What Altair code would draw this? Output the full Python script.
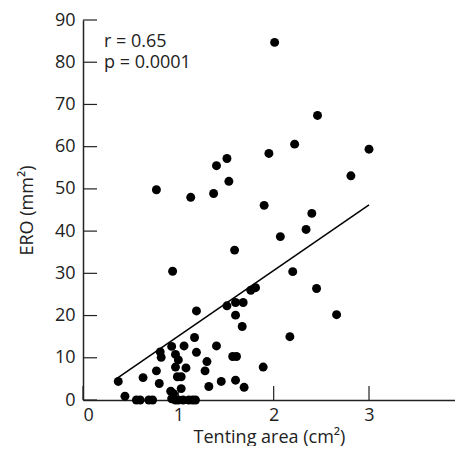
import altair as alt
import pandas as pd

# Scatter data: tenting area (cm^2) vs ERO (mm^2)
tenting = [2.01, 2.46, 2.22, 1.95, 3.00, 2.81, 1.51, 1.40, 1.53, 1.37,
           1.13, 0.77, 1.90, 2.40, 2.34, 2.07, 1.59, 0.94, 2.20, 1.81,
           1.76, 2.45, 1.51, 1.60, 1.68, 1.60, 1.19, 2.66, 1.67, 2.17,
           1.17, 1.06, 1.40, 1.19, 1.57, 1.61, 1.30, 1.28, 1.89, 1.45,
           1.60, 1.32, 1.69, 0.37, 0.44, 0.56, 0.60, 0.69, 0.73, 0.63,
           0.77, 0.80, 0.81, 0.82, 0.93, 0.97, 1.00, 0.97, 1.08, 0.99,
           1.03, 1.03, 0.92, 0.95, 0.93, 0.97, 1.00, 1.05, 1.11, 1.15,
           1.18]
ero = [84.7, 67.4, 60.6, 58.4, 59.4, 53.1, 57.2, 55.5, 51.8, 48.9,
       48.0, 49.8, 46.1, 44.2, 40.4, 38.7, 35.5, 30.5, 30.4, 26.6,
       26.0, 26.4, 22.3, 23.1, 23.1, 20.1, 21.1, 20.2, 17.4, 15.0,
       14.8, 12.8, 12.8, 11.3, 10.3, 10.3, 9.1, 6.9, 7.8, 4.4,
       4.7, 3.2, 3.0, 4.4, 0.9, 0.0, 0.0, 0.0, 0.0, 5.3,
       6.9, 3.9, 11.4, 10.1, 12.7, 10.8, 9.5, 7.8, 7.6, 5.5,
       5.5, 2.7, 2.1, 1.5, 0.3, 0.0, 0.0, 0.0, 0.0, 0.0,
       0.0]

# Regression line end points
line_x = [0.36, 3.0]
line_y = [5.2, 46.2]

# Axis ticks
x_ticks = [0, 1, 2, 3]
y_ticks = [0, 10, 20, 30, 40, 50, 60, 70, 80, 90]

# Annotation
ann_text = ["r = 0.65", "p = 0.0001"]
ann_x = [0.22, 0.22]
ann_y = [84.9, 79.7]

FONT = "Open Sans"
FS = 18
X_MAX = 3.902  # right edge of the visible plot area

pts = pd.DataFrame({"x": tenting, "y": ero})
line_df = pd.DataFrame({"x": line_x, "y": line_y})
xt = pd.DataFrame({"v": x_ticks})
yt = pd.DataFrame({"v": y_ticks})
ann = pd.DataFrame({"t": ann_text, "x": ann_x, "y": ann_y})

xscale = alt.Scale(domain=[0, X_MAX], nice=False, zero=False)
yscale = alt.Scale(domain=[0, 90], nice=False)

xaxis = alt.Axis(values=x_ticks, format="d", ticks=False, grid=False,
                 domainColor="#222", domainWidth=1.5, labelFont=FONT,
                 labelFontSize=FS, labelColor="#222", labelPadding=6,
                 title="Tenting area (cm²)", titleFont=FONT, titleFontSize=FS,
                 titleFontWeight="normal", titleColor="#222",
                 titleBaseline="alphabetic", titleY=42)
yaxis = alt.Axis(values=y_ticks, format="d", ticks=False, grid=False,
                 domainColor="#222", domainWidth=1.5, labelFont=FONT,
                 labelFontSize=FS, labelColor="#222", labelPadding=8,
                 title="ERO (mm²)", titleFont=FONT, titleFontSize=FS,
                 titleFontWeight="normal", titleColor="#222", titlePadding=18)

points = alt.Chart(pts).mark_circle(size=80, color="black", opacity=1).encode(
    x=alt.X("x:Q", scale=xscale, axis=xaxis),
    y=alt.Y("y:Q", scale=yscale, axis=yaxis),
)

reg = alt.Chart(line_df).mark_line(color="black", strokeWidth=1.5).encode(
    x=alt.X("x:Q", scale=xscale),
    y=alt.Y("y:Q", scale=yscale),
)

ytick_marks = alt.Chart(yt).mark_rule(color="#222", strokeWidth=1.2).encode(
    y=alt.Y("v:Q", scale=yscale),
    x=alt.value(0),
    x2=alt.value(14),
)
xtick_marks = alt.Chart(xt).mark_rule(color="#222", strokeWidth=1.2).encode(
    x=alt.X("v:Q", scale=xscale),
    y=alt.value(380),
    y2=alt.value(366),
)

text = alt.Chart(ann).mark_text(align="left", baseline="middle", font=FONT,
                                fontSize=FS, color="#222").encode(
    x=alt.X("x:Q", scale=xscale),
    y=alt.Y("y:Q", scale=yscale),
    text="t:N",
)

chart = alt.layer(ytick_marks, xtick_marks, reg, points, text).properties(
    width=372, height=380,
    autosize=alt.AutoSizeParams(type="none"),
    padding={"left": 75, "top": 12, "right": 0, "bottom": 46},
).configure_view(stroke=None)

chart.save("out.html", embed_options={"renderer": "svg", "actions": False})
